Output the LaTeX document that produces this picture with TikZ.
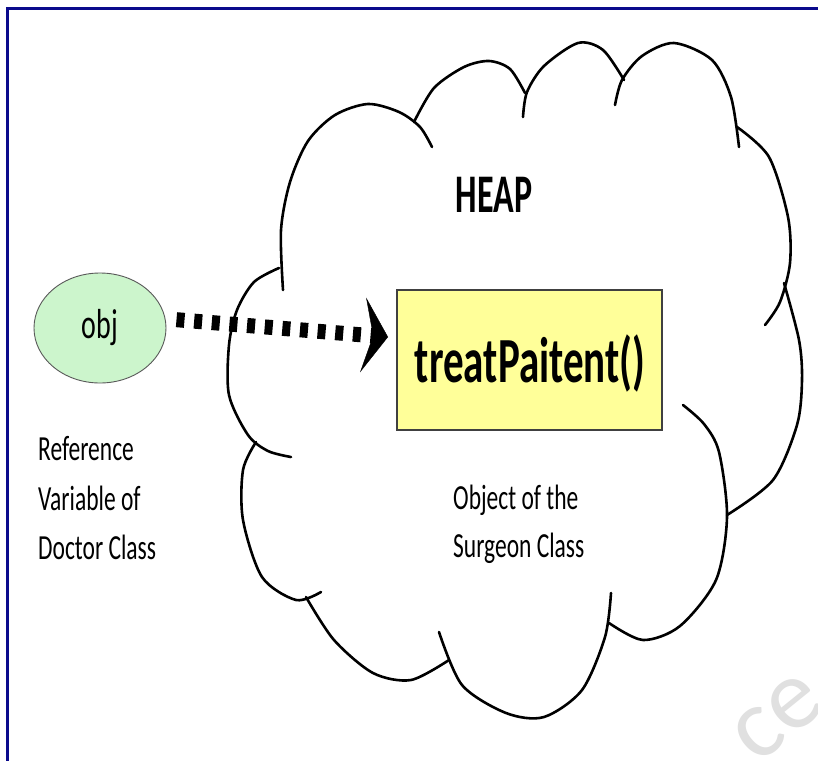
\documentclass[tikz,border=0pt]{standalone}
\usepackage{fontspec}
\setmainfont{Carlito}
\usetikzlibrary{arrows.meta,shapes.geometric}
\newcommand{\vst}[2][1.5]{\scalebox{1}[#1]{#2}}
\definecolor{frameblue}{RGB}{10,10,140}
\definecolor{objgreen}{RGB}{204,245,204}
\definecolor{boxyellow}{RGB}{255,255,153}
\begin{document}
\begin{tikzpicture}[x=1pt,y=-1pt,
  cloudline/.style={line width=2.6pt, line cap=round, line join=round},
  lbl/.style={anchor=base west, inner sep=0pt, font=\fontsize{23.5}{28}\selectfont},
  reflink/.style={line width=15pt, dash pattern=on 8pt off 9.7pt, shorten <=11pt,
    -{Stealth[length=25pt,width=75pt,inset=10pt,line width=0.4pt]}}]
\useasboundingbox (0,0) rectangle (818,760);
\clip (0,0) rectangle (818,760);
\fill[white] (0,0) rectangle (818,760);
% watermark
\node[font=\fontsize{100}{100}\selectfont, text=black!12, rotate=39, inner sep=0pt] (wm) at (778,718) {ce};
% frame (top and left edges)
\draw[frameblue, line width=2.5pt] (7.5,765) -- (7.5,8.5) -- (825,8.5);
% cloud lobes
\draw[cloudline] plot[smooth] coordinates {(279,268) (254,282) (237,310) (229,345) (229,395) (248,435) (268,451) (291,457)};
\draw[cloudline] plot[smooth] coordinates {(283,290) (281,230) (290,182) (308,141) (335,115) (368,104) (399,112) (420,127) (432,147)};
\draw[cloudline] plot[smooth] coordinates {(414,122) (434,88) (464,67) (489,61) (510,69) (525,93)};
\draw[cloudline] plot[smooth] coordinates {(523,117) (527,92) (544,66) (578,43) (603,50) (624,80)};
\draw[cloudline] plot[smooth] coordinates {(615,105) (622,80) (642,56) (674,43) (712,60) (731,97) (739,147)};
\draw[cloudline] plot[smooth] coordinates {(737,127) (769,157) (788,217) (790,263) (780,302) (765,325)};
\draw[cloudline] plot[smooth] coordinates {(784,283) (799,340) (802,380) (797,425) (773,480) (727,515)};
\draw[cloudline] plot[smooth] coordinates {(683,405) (704,424) (719,452) (727,517) (716,580) (680,626) (643,640) (609,623)};
\draw[cloudline] plot[smooth] coordinates {(611,593) (605,637) (582,690) (544,717) (506,713) (462,685) (439,632)};
\draw[cloudline] plot[smooth] coordinates {(449,660) (411,680) (373,673) (334,640) (306,597)};
\draw[cloudline] plot[smooth] coordinates {(321,592) (296,600) (262,577) (243,520) (243,470) (256,442)};
% heap title
\node[anchor=base, inner sep=0pt, font=\fontsize{34}{40}\bfseries] (heap) at (494,212) {\vst[1.6]{HEAP}};
% object box
\node[draw=black!75, line width=1.2pt, fill=boxyellow, minimum width=265pt, minimum height=140pt, inner sep=0pt] (box) at (529.5,360) {};
\node[anchor=base, inner sep=0pt, font=\fontsize{41}{48}\bfseries] (meth) at (530,382) {\vst[1.57]{treatPaitent()}};
% reference variable
\node[ellipse, draw=black!65, line width=0.9pt, fill=objgreen, minimum width=132pt, minimum height=110pt, inner sep=0pt,
  font=\fontsize{28}{32}\selectfont] (obj) at (100,328) {\vst{obj}};
\coordinate (tip) at (388,337);
\draw[reflink] (obj.8) -- (tip);
% labels
\node[lbl] (ref1) at (38,460) {\vst{Reference}};
\node[lbl] (ref2) at (38,510) {\vst{Variable of}};
\node[lbl] (ref3) at (38,559) {\vst{Doctor Class}};
\node[lbl] (obj1) at (453,509) {\vst{Object of the}};
\node[lbl] (obj2) at (453,557) {\vst{Surgeon Class}};
\end{tikzpicture}
\end{document}
